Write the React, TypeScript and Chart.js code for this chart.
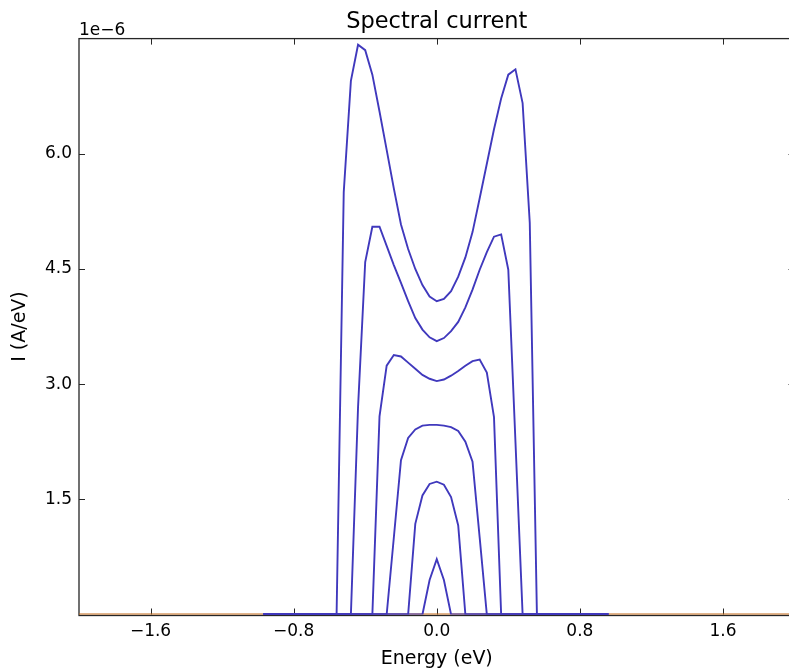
import React, { useEffect, useRef } from 'react';
import { Chart, registerables } from 'chart.js';

Chart.register(...registerables);

// Energy grid (eV) on which the bias-window curves are sampled
const energyGrid = [
  -0.56, -0.52, -0.48, -0.44, -0.4, -0.36, -0.32, -0.28, -0.24, -0.2, -0.16, -0.12, -0.08, -0.04, 0,
  0.04, 0.08, 0.12, 0.16, 0.2, 0.24, 0.28, 0.32, 0.36, 0.4, 0.44, 0.48, 0.52, 0.56,
];

// Spectral current, in units of 1e-6 A/eV
const currentBias6 = [
  0, 5.5, 6.95, 7.42, 7.35, 7.03, 6.55, 6.05, 5.55, 5.08, 4.76, 4.5, 4.29, 4.14, 4.08,
  4.11, 4.21, 4.4, 4.65, 4.98, 5.42, 5.87, 6.32, 6.72, 7.03, 7.1, 6.66, 5.1, 0,
];
const currentBias5 = [
  0, 0, 0, 2.7, 4.59, 5.05, 5.05, 4.8, 4.55, 4.32, 4.08, 3.86, 3.71, 3.61, 3.56,
  3.6, 3.69, 3.81, 4.0, 4.23, 4.49, 4.72, 4.92, 4.95, 4.49, 2.25, 0, 0, 0,
];
const currentBias4 = [
  0, 0, 0, 0, 0, 0, 2.58, 3.24, 3.38, 3.36, 3.28, 3.2, 3.12, 3.07, 3.04,
  3.06, 3.11, 3.17, 3.24, 3.3, 3.32, 3.15, 2.57, 0, 0, 0, 0, 0, 0,
];
const currentBias3 = [
  0, 0, 0, 0, 0, 0, 0, 0, 1.0, 2.01, 2.3, 2.41, 2.46, 2.47, 2.47,
  2.46, 2.44, 2.39, 2.25, 1.99, 1.0, 0, 0, 0, 0, 0, 0, 0, 0,
];
const currentBias2 = [
  0, 0, 0, 0, 0, 0, 0, 0, 0, 0, 0, 1.18, 1.55, 1.7, 1.73,
  1.69, 1.53, 1.16, 0, 0, 0, 0, 0, 0, 0, 0, 0, 0, 0,
];
const currentBias1 = [
  0, 0, 0, 0, 0, 0, 0, 0, 0, 0, 0, 0, 0, 0.45, 0.72,
  0.45, 0, 0, 0, 0, 0, 0, 0, 0, 0, 0, 0, 0, 0,
];

// zero-current segments
const blueBaselineRange = [-0.97, 0.96];
const zeroBiasRange = [-2, 2];
const zeroBiasCurrent = [0, 0];

// axes
const xLimits = [-2, 2];
const yLimits = [0, 7.5];
const xTickValues = [-1.6, -0.8, 0, 0.8, 1.6];
const yTickValues = [1.5, 3.0, 4.5, 6.0];

const FONT = '"DejaVu Sans", Verdana, sans-serif';
const BLUE = '#4039bd';
const ORANGE = '#c46a1a';
const FRAME = '#262626';

const fmt = (v: number) => (v < 0 ? '\u2212' + Math.abs(v).toFixed(1) : v.toFixed(1));

export default function App() {
  const ref = useRef<HTMLCanvasElement>(null);

  useEffect(() => {
    const canvas = ref.current;
    if (!canvas) return;

    const blueCurves = [currentBias1, currentBias2, currentBias3, currentBias4, currentBias5, currentBias6];
    const datasets: any[] = blueCurves.map((vals) => ({
      data: [
        { x: blueBaselineRange[0], y: 0 },
        ...energyGrid.map((e, i) => ({ x: e, y: vals[i] })),
        { x: blueBaselineRange[1], y: 0 },
      ],
      borderColor: BLUE,
      borderWidth: 1.9,
      pointRadius: 0,
      fill: false,
      tension: 0,
    }));
    datasets.push({
      data: zeroBiasRange.map((x, i) => ({ x, y: zeroBiasCurrent[i] })),
      borderColor: ORANGE,
      borderWidth: 1.9,
      pointRadius: 0,
      fill: false,
      tension: 0,
    });

    const framePlugin = {
      id: 'frame',
      beforeDatasetsDraw(chart: any) {
        const { ctx, chartArea } = chart;
        const { left, top, right, bottom } = chartArea;
        const xs = chart.scales.x;
        const ys = chart.scales.y;
        ctx.save();
        ctx.strokeStyle = FRAME;
        ctx.lineWidth = 1.3;
        ctx.strokeRect(left, top, right - left, bottom - top + 1);
        ctx.lineWidth = 1;
        const tl = 6;
        ctx.beginPath();
        xTickValues.forEach((v) => {
          const px = Math.round(xs.getPixelForValue(v)) + 0.5;
          ctx.moveTo(px, bottom);
          ctx.lineTo(px, bottom - tl);
          ctx.moveTo(px, top);
          ctx.lineTo(px, top + tl);
        });
        yTickValues.forEach((v) => {
          const py = Math.round(ys.getPixelForValue(v)) + 0.5;
          ctx.moveTo(left, py);
          ctx.lineTo(left + tl, py);
          ctx.moveTo(right, py);
          ctx.lineTo(right - tl, py);
        });
        ctx.stroke();
        ctx.fillStyle = '#000';
        ctx.font = `17px ${FONT}`;
        ctx.textAlign = 'left';
        ctx.textBaseline = 'alphabetic';
        ctx.fillText('1e\u22126', left, top - 3.5);
        ctx.restore();
      },
    };

    const chart = new Chart(canvas, {
      type: 'line',
      data: { datasets },
      options: {
        animation: false,
        responsive: false,
        devicePixelRatio: 1,
        layout: { padding: { left: 0, right: 5.5, top: 0, bottom: 0 } },
        plugins: {
          legend: { display: false },
          tooltip: { enabled: false },
          title: {
            display: true,
            text: 'Spectral current',
            fullSize: false,
            color: '#000',
            font: { family: FONT, size: 22.5, weight: 'normal' },
            padding: { top: 8.6, bottom: 3.0 },
          },
        },
        scales: {
          x: {
            type: 'linear',
            min: xLimits[0],
            max: xLimits[1],
            afterBuildTicks: (s: any) => {
              s.ticks = xTickValues.map((value) => ({ value }));
            },
            afterFit: (s: any) => {
              s.height = 56.5;
            },
            ticks: {
              callback: (v: any) => fmt(Number(v)),
              color: '#000',
              font: { family: FONT, size: 17 },
              padding: 7,
              maxRotation: 0,
              autoSkip: false,
            },
            grid: { display: false, drawTicks: false },
            border: { display: false },
            title: {
              display: true,
              text: 'Energy (eV)',
              color: '#000',
              font: { family: FONT, size: 19 },
              padding: { top: 0, bottom: 1 },
            },
          },
          y: {
            type: 'linear',
            min: yLimits[0],
            max: yLimits[1],
            afterBuildTicks: (s: any) => {
              s.ticks = yTickValues.map((value) => ({ value }));
            },
            afterFit: (s: any) => {
              s.width = 79;
            },
            ticks: {
              callback: (v: any) => fmt(Number(v)),
              color: '#000',
              font: { family: FONT, size: 17 },
              padding: 7,
              autoSkip: false,
            },
            grid: { display: false, drawTicks: false },
            border: { display: false },
            title: {
              display: true,
              text: 'I (A/eV)',
              color: '#000',
              font: { family: FONT, size: 19 },
              padding: { top: 9, bottom: 0 },
            },
          },
        },
      } as any,
      plugins: [framePlugin],
    });

    return () => chart.destroy();
  }, []);

  return (
    <div
      style={{
        position: 'fixed',
        left: 0,
        top: 0,
        width: 789,
        height: 671,
        overflow: 'hidden',
        background: '#fff',
      }}
    >
      <canvas ref={ref} width={800} height={671} style={{ display: 'block', width: 800, height: 671 }} />
    </div>
  );
}
